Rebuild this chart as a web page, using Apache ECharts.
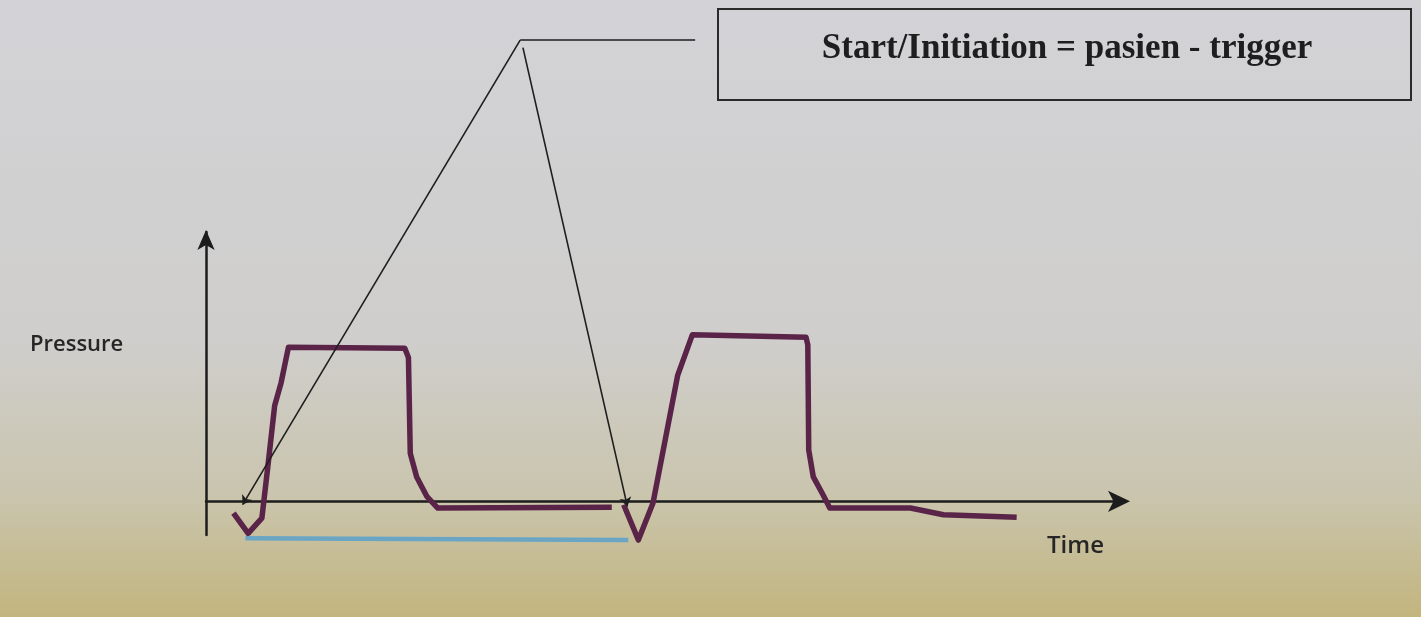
<!DOCTYPE html>
<html>
<head>
<meta charset="utf-8">
<script src="https://cdn.jsdelivr.net/npm/echarts@6/dist/echarts.min.js"></script>
<style>
html,body{margin:0;padding:0;}
#chart{width:1421px;height:617px;}
</style>
</head>
<body>
<div id="chart"></div>
<script>
// Time (s) and pressure values
const breath1Time = [0.30, 0.46, 0.61, 0.68, 0.75, 0.82, 0.90, 2.17, 2.21, 2.23, 2.30, 2.41, 2.53, 4.43];
const breath1Pressure = [-1.4, -3.8, -2.0, 4.6, 11.4, 14.1, 18.3, 18.2, 17.1, 5.7, 2.9, 0.6, -0.8, -0.7];
const breath2Time = [4.56, 4.72, 4.88, 5.15, 5.31, 6.55, 6.57, 6.58, 6.63, 6.73, 6.81, 7.69, 8.05, 8.85];
const breath2Pressure = [-0.4, -4.6, -0.2, 15.0, 19.8, 19.5, 18.6, 6.1, 2.9, 0.9, -0.8, -0.8, -1.6, -1.9];
// Trigger annotation (pointer lines) endpoints
const pointerApex = [3.43, 54.8];
const pointerTargets = [[0.40, -0.4], [4.60, -0.6]];
const pointerLeaderEnd = [5.34, 54.8];
const pointerSecondStart = [3.46, 53.9];
// Trigger / cycle period bar
const cycleBarTime = [0.43, 4.61];
const cycleBarPressure = [-4.4, -4.6];
const labels = {
  y: 'Pressure',
  x: 'Time',
  note: 'Start/Initiation = pasien - trigger'
};

const chart = echarts.init(document.getElementById('chart'));
const zip = (a, b) => a.map((v, i) => [v, b[i]]);
const waveColor = '#5a2448';

chart.setOption({
  backgroundColor: {
    type: 'linear', x: 0, y: 0, x2: 0, y2: 1,
    colorStops: [
      {offset: 0, color: '#d3d3d7'},
      {offset: 0.55, color: '#cfcecc'},
      {offset: 0.8, color: '#cac5ae'},
      {offset: 1, color: '#c2b57e'}
    ]
  },
  animation: false,
  grid: {left: 206, right: 299, top: 232, bottom: 82},
  xAxis: {
    type: 'value', min: 0, max: 10,
    axisLine: {onZero: true, lineStyle: {color: '#1c1c1c', width: 2.5},
      symbol: ['none', 'arrow'], symbolSize: [16, 22], symbolOffset: [0, 8]},
    axisTick: {show: false}, axisLabel: {show: false}, splitLine: {show: false}
  },
  yAxis: {
    type: 'value', min: -4, max: 32,
    axisLine: {onZero: false, lineStyle: {color: '#1c1c1c', width: 2.5},
      symbol: ['none', 'arrow'], symbolSize: [13, 20], symbolOffset: [0, 2]},
    axisTick: {show: false}, axisLabel: {show: false}, splitLine: {show: false}
  },
  graphic: [
    {type: 'text', x: 30, y: 345,
      style: {text: labels.y, font: '600 22px "Open Sans"', fill: '#262626',
        textVerticalAlign: 'middle'}},
    {type: 'text', x: 1047, y: 546,
      style: {text: labels.x, font: '600 24px "Open Sans"', fill: '#262626',
        textVerticalAlign: 'middle'}},
    {type: 'rect', shape: {x: 718, y: 9, width: 693, height: 91},
      style: {fill: 'rgba(0,0,0,0)', stroke: '#2a2a2a', lineWidth: 2}},
    {type: 'text', x: 1067, y: 49,
      style: {text: labels.note, font: 'bold 35px "Liberation Serif"', fill: '#1e1e1e',
        textAlign: 'center', textVerticalAlign: 'middle'}}
  ],
  series: [
    {
      type: 'line', data: zip(cycleBarTime, cycleBarPressure), clip: false,
      symbol: 'none', lineStyle: {color: '#6aa6c4', width: 4.5}, z: 2
    },
    {
      type: 'line', data: zip(breath1Time, breath1Pressure), clip: false,
      symbol: 'none', lineStyle: {color: waveColor, width: 5.5, join: 'round'}, z: 3
    },
    {
      type: 'line', data: zip(breath2Time, breath2Pressure), clip: false,
      symbol: 'none', lineStyle: {color: waveColor, width: 5.5, join: 'round'}, z: 3
    },
    {
      type: 'lines', coordinateSystem: 'cartesian2d', clip: false,
      symbol: ['none', 'arrow'], symbolSize: 9,
      lineStyle: {color: '#1e1e1e', width: 1.6, opacity: 1},
      data: [
        {coords: [pointerApex, pointerTargets[0]]},
        {coords: [pointerSecondStart, pointerTargets[1]]}
      ], z: 4
    },
    {
      type: 'lines', coordinateSystem: 'cartesian2d', clip: false,
      symbol: 'none',
      lineStyle: {color: '#1e1e1e', width: 1.6, opacity: 1},
      data: [{coords: [pointerApex, pointerLeaderEnd]}], z: 4
    }
  ]
});
</script>
</body>
</html>
